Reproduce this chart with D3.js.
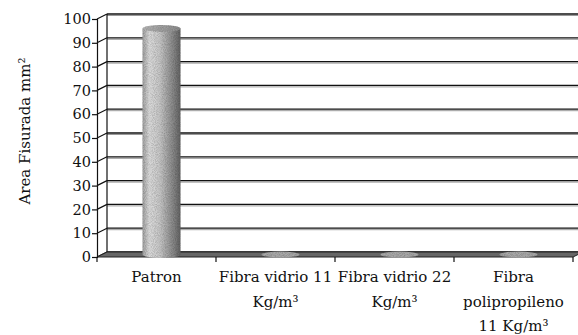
<!DOCTYPE html>
<html>
<head>
<meta charset="utf-8">
<script src="https://cdn.jsdelivr.net/npm/d3@7"></script>
<style>
  body { margin: 0; background: #fff; }
</style>
</head>
<body>
<svg id="chart" width="578" height="335"></svg>
<script>
// data
var categories = ['Patron', 'Fibra vidrio 11 Kg/m³', 'Fibra vidrio 22 Kg/m³', 'Fibra polipropileno 11 Kg/m³']
var labelLines = [['Patron'], ['Fibra vidrio 11', 'Kg/m³'], ['Fibra vidrio 22', 'Kg/m³'], ['Fibra', 'polipropileno', '11 Kg/m³']]
var values = [95, 0, 0, 0]
var yTicks = [0, 10, 20, 30, 40, 50, 60, 70, 80, 90, 100]
var yTitle = 'Area Fisurada mm²'

var serif = "'DejaVu Serif', serif"
var svg = d3.select('#chart')

// depth offset of the 3d box
var dx = 10, dy = -5

var yBack = d3.scaleLinear().domain([0, 100]).range([252, 14])
function yFront(v) { return yBack(v) - dy }
var x = d3.scaleBand().domain(categories).range([97, 573])

var defs = svg.append('defs')
var grad = defs.append('linearGradient').attr('id', 'cyl')
grad.append('stop').attr('offset', '0%').attr('stop-color', '#a0a0a0')
grad.append('stop').attr('offset', '18%').attr('stop-color', '#dcdcdc')
grad.append('stop').attr('offset', '45%').attr('stop-color', '#c8c8c8')
grad.append('stop').attr('offset', '85%').attr('stop-color', '#808080')
grad.append('stop').attr('offset', '100%').attr('stop-color', '#626262')

var topGrad = defs.append('linearGradient').attr('id', 'cyltop')
topGrad.append('stop').attr('offset', '0%').attr('stop-color', '#b4b4b4')
topGrad.append('stop').attr('offset', '100%').attr('stop-color', '#8e8e8e')

var f = defs.append('filter').attr('id', 'speckle').attr('x', 0).attr('y', 0).attr('width', 1).attr('height', 1)
f.append('feTurbulence').attr('type', 'fractalNoise').attr('baseFrequency', 1.1).attr('numOctaves', 1).attr('seed', 3).attr('result', 'noise')
f.append('feColorMatrix').attr('in', 'noise').attr('type', 'matrix')
  .attr('values', '0 0 0 0 0  0 0 0 0 0  0 0 0 0 0  0 0 0 -1.6 1.1').attr('result', 'dots')
f.append('feComposite').attr('in', 'dots').attr('in2', 'SourceAlpha').attr('operator', 'in').attr('result', 'dots2')
f.append('feComponentTransfer').attr('in', 'dots2').attr('result', 'dots3')
  .append('feFuncA').attr('type', 'linear').attr('slope', 0.45)
var fm = f.append('feMerge')
fm.append('feMergeNode').attr('in', 'SourceGraphic')
fm.append('feMergeNode').attr('in', 'dots3')

// back wall gridlines
var x0 = x.range()[0]
var grid = svg.append('g')
grid.selectAll('.shade').data(yTicks).enter().append('line')
  .attr('x1', x0 + dx).attr('x2', 578)
  .attr('y1', function (d) { return yBack(d) + 1.5 })
  .attr('y2', function (d) { return yBack(d) + 1.5 })
  .attr('stroke', '#999').attr('stroke-width', 1)
grid.selectAll('.gl').data(yTicks).enter().append('line')
  .attr('x1', x0 + dx).attr('x2', 578)
  .attr('y1', function (d) { return yBack(d) })
  .attr('y2', function (d) { return yBack(d) })
  .attr('stroke', '#111').attr('stroke-width', 1.3)
// side wall diagonals
grid.selectAll('.diag').data(yTicks).enter().append('line')
  .attr('x1', x0).attr('x2', x0 + dx)
  .attr('y1', function (d) { return yFront(d) })
  .attr('y2', function (d) { return yBack(d) })
  .attr('stroke', '#111').attr('stroke-width', 1.2)
grid.append('line')
  .attr('x1', x0 + dx).attr('x2', x0 + dx)
  .attr('y1', yBack(100)).attr('y2', yBack(0))
  .attr('stroke', '#111').attr('stroke-width', 1.2)

// floor
var xEnd = x.range()[1]
var floorPts = [[x0, yFront(0)], [xEnd, yFront(0)], [xEnd + dx, yBack(0)], [x0 + dx, yBack(0)]]
svg.append('polygon')
  .attr('points', floorPts.map(function (p) { return p.join(',') }).join(' '))
  .attr('fill', '#666').attr('stroke', '#222').attr('stroke-width', 1)

// cylinders
var rx = 19, ry = 3.5
var bars = svg.append('g').selectAll('g').data(values).enter().append('g')
bars.each(function (v, i) {
  var g = d3.select(this)
  var cx = x(categories[i]) + x.bandwidth() / 2 + dx / 2
  var yb = yBack(0) - dy / 2
  var yt = yBack(v) - dy / 2
  if (v > 0) {
    g.append('path')
      .attr('d', 'M' + (cx - rx) + ',' + yt + ' L' + (cx - rx) + ',' + yb +
        ' A' + rx + ',' + ry + ' 0 0 0 ' + (cx + rx) + ',' + yb +
        ' L' + (cx + rx) + ',' + yt + ' Z')
      .attr('fill', 'url(#cyl)').attr('filter', 'url(#speckle)')
    g.append('ellipse').attr('cx', cx).attr('cy', yt).attr('rx', rx).attr('ry', ry)
      .attr('fill', 'url(#cyltop)').attr('filter', 'url(#speckle)')
  } else {
    g.append('ellipse').attr('cx', cx).attr('cy', yb).attr('rx', rx).attr('ry', ry - 0.5)
      .attr('fill', '#a8a8a8').attr('filter', 'url(#speckle)')
  }
})

// front y axis
var yAxis = d3.axisLeft(d3.scaleLinear().domain([0, 100]).range([yFront(0), yFront(100)]))
  .tickValues(yTicks).tickSize(5).tickPadding(1)
var ya = svg.append('g').attr('transform', 'translate(' + x0 + ',0)').call(yAxis)
  .attr('font-family', serif).attr('font-size', 14.5)
ya.select('.domain').attr('stroke', '#111').attr('stroke-width', 1.2)
ya.selectAll('.tick line').attr('stroke', '#111').attr('stroke-width', 1.2)
ya.selectAll('.tick text').attr('fill', '#111')

// x axis ticks along the front of the floor
var xTickPos = categories.map(function (c) { return x(c) }).concat([xEnd])
svg.append('g').selectAll('line').data(xTickPos).enter().append('line')
  .attr('x1', function (d) { return d }).attr('x2', function (d) { return d })
  .attr('y1', yFront(0)).attr('y2', yFront(0) + 5)
  .attr('stroke', '#111').attr('stroke-width', 1.2)

// category labels
var labels = svg.append('g').attr('font-family', serif).attr('font-size', 15)
  .selectAll('text').data(labelLines).enter().append('text')
  .attr('text-anchor', 'middle').attr('fill', '#111')
labels.each(function (lines, i) {
  var t = d3.select(this)
  var cx = x(categories[i]) + x.bandwidth() / 2
  lines.forEach(function (ln, j) {
    t.append('tspan').attr('x', cx).attr('y', 282 + j * 24.5).text(ln)
  })
})

// y title
svg.append('text')
  .attr('transform', 'translate(30,131) rotate(-90)')
  .attr('text-anchor', 'middle')
  .attr('font-family', serif).attr('font-size', 15).attr('fill', '#111')
  .text(yTitle)
</script>
</body>
</html>
